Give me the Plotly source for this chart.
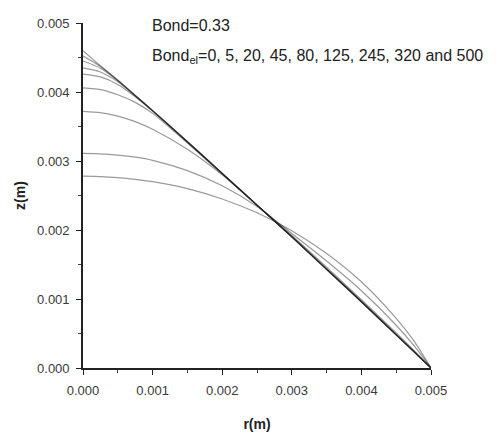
import plotly.graph_objects as go

# radial positions (mm) at which the profiles are sampled
r_mm = [0, 0.25, 0.5, 0.75, 1.0, 1.5, 2.0, 2.5, 3.0, 3.5, 4.0, 4.5, 4.75, 5.0]

# droplet height z (mm) for each electric Bond number
bond_el = [0, 5, 20, 45, 80, 125, 245, 320, 500]
z_be0 = [2.78, 2.775, 2.76, 2.735, 2.70, 2.60, 2.45, 2.25, 1.99, 1.66, 1.25, 0.72, 0.40, 0.0]
z_be5 = [3.11, 3.104, 3.085, 3.055, 3.01, 2.86, 2.64, 2.34, 1.95, 1.55, 1.12, 0.62, 0.33, 0.0]
z_be20 = [3.72, 3.70, 3.65, 3.57, 3.46, 3.17, 2.80, 2.36, 1.92, 1.46, 0.99, 0.51, 0.26, 0.0]
z_be45 = [4.06, 4.035, 3.96, 3.85, 3.69, 3.26, 2.81, 2.36, 1.91, 1.44, 0.97, 0.49, 0.25, 0.0]
z_be80 = [4.26, 4.22, 4.11, 3.93, 3.72, 3.275, 2.82, 2.36, 1.90, 1.43, 0.96, 0.48, 0.24, 0.0]
z_be125 = [4.35, 4.29, 4.15, 3.945, 3.73, 3.28, 2.82, 2.36, 1.90, 1.43, 0.96, 0.48, 0.24, 0.0]
z_be245 = [4.45, 4.345, 4.165, 3.95, 3.73, 3.28, 2.82, 2.36, 1.90, 1.43, 0.96, 0.48, 0.24, 0.0]
z_be320 = [4.52, 4.37, 4.17, 3.95, 3.73, 3.28, 2.82, 2.36, 1.90, 1.43, 0.96, 0.48, 0.24, 0.0]
z_be500 = [4.60, 4.38, 4.17, 3.95, 3.73, 3.28, 2.82, 2.36, 1.90, 1.43, 0.96, 0.48, 0.24, 0.0]
profiles = [z_be0, z_be5, z_be20, z_be45, z_be80, z_be125, z_be245, z_be320, z_be500]

x_ticks = [0.000, 0.001, 0.002, 0.003, 0.004, 0.005]
y_ticks = [0.000, 0.001, 0.002, 0.003, 0.004, 0.005]

r_m = [v / 1000 for v in r_mm]

fig = go.Figure()
for be, zs in zip(bond_el, profiles):
    fig.add_trace(go.Scatter(
        x=r_m, y=[v / 1000 for v in zs], mode="lines", name=f"Bond_el={be}",
        line=dict(color="rgba(30,30,30,0.45)", width=1.2, shape="spline", smoothing=0.7),
        showlegend=False,
    ))

tick_font = dict(family="Liberation Sans, Arial", size=13, color="#3a3a3a")
axis_common = dict(
    showline=True, linecolor="#222222", linewidth=1.6, showgrid=False, zeroline=False,
    ticks="outside", ticklen=5, tickwidth=1.3, tickcolor="#222222",
    minor=dict(ticks="outside", ticklen=3, tickwidth=1, tickcolor="#444444", dtick=0.0005),
    tickfont=tick_font, tickformat=".3f", automargin=False,
)

fig.update_layout(
    width=502, height=433,
    margin=dict(l=83, r=71, t=23, b=65),
    plot_bgcolor="white", paper_bgcolor="white",
    xaxis=dict(range=[0, 0.005], tickvals=x_ticks, ticklabelstandoff=5, **axis_common,
               title=dict(text="<b>r(m)</b>", standoff=22,
                          font=dict(family="Liberation Sans, Arial", size=14, color="#222222"))),
    yaxis=dict(range=[0, 0.005], tickvals=y_ticks, ticklabelstandoff=4, **axis_common,
               title=dict(text="<b>z(m)</b>", standoff=8,
                          font=dict(family="Liberation Sans, Arial", size=14, color="#222222"))),
)

note_font = dict(family="Liberation Sans, Arial", size=16, color="#222222")
fig.add_annotation(text="Bond=0.33", xref="paper", yref="paper", x=(149 - 83) / 345, y=1 - (25 - 23) / 345,
                   xanchor="left", yanchor="middle", showarrow=False, font=note_font)
fig.add_annotation(text="Bond<sub>el</sub>=0, 5, 20, 45, 80, 125, 245, 320 and 500",
                   xref="paper", yref="paper", x=(149 - 83) / 345, y=1 - (56 - 23) / 345,
                   xanchor="left", yanchor="middle", showarrow=False, font=note_font)

fig.write_html("out.html")
